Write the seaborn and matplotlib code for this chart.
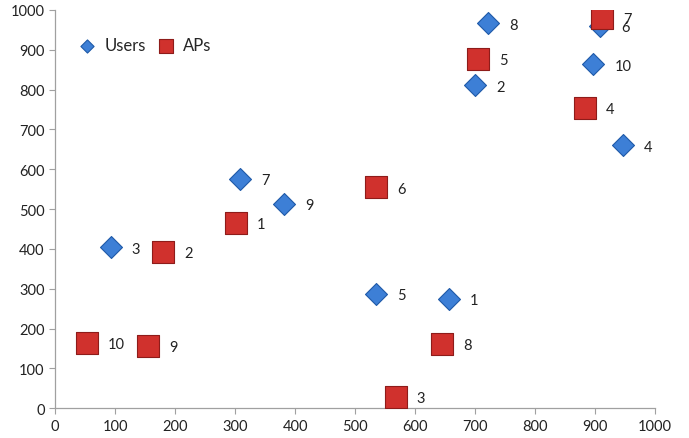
import pandas as pd
import matplotlib
matplotlib.use("Agg")
import matplotlib.pyplot as plt
import seaborn as sns

# -----------------------------------
# DATA
# -----------------------------------

user_ids = [1, 2, 3, 4, 5, 6, 7, 8, 9, 10]
user_x = [657, 700, 93, 947, 535, 908, 308, 722, 382, 897]
user_y = [274, 811, 404, 660, 287, 960, 576, 967, 513, 864]

ap_ids = [1, 2, 3, 4, 5, 6, 7, 8, 9, 10]
ap_x = [302, 180, 568, 883, 705, 535, 912, 645, 155, 53]
ap_y = [466, 392, 28, 754, 878, 555, 980, 162, 157, 164]

users = pd.DataFrame({"x": user_x, "y": user_y, "id": user_ids})
aps = pd.DataFrame({"x": ap_x, "y": ap_y, "id": ap_ids})

# SET STYLE
sns.set_style("white")
plt.rcParams["font.family"] = ["Lato", "DejaVu Sans"]

fig = plt.figure(figsize=(6.89, 4.39), dpi=100)
ax = fig.add_axes([0.080, 0.068, 0.871, 0.907])

sns.scatterplot(
    x="x", y="y", data=users, marker="D", s=125,
    color="#3d7fd6", edgecolor="#1f5aa8", linewidth=0.8,
    label="Users", ax=ax, zorder=3
)
sns.scatterplot(
    x="x", y="y", data=aps, marker="s", s=250,
    color="#d0312d", edgecolor="#8e1c1a", linewidth=0.8,
    label="APs", ax=ax, zorder=4
)

# point labels
for df in (users, aps):
    for _, r in df.iterrows():
        ax.annotate(str(r["id"]), (r["x"], r["y"]), xytext=(15, -1),
                    textcoords="offset points", va="center", ha="left",
                    fontsize=10.5, color="#222222")

ax.set_xlim(0, 1000)
ax.set_ylim(0, 1000)
ax.set_xticks(range(0, 1001, 100))
ax.set_yticks(range(0, 1001, 100))
ax.set_xlabel("")
ax.set_ylabel("")
ax.tick_params(axis="both", labelsize=10.5, labelcolor="#222222", length=4,
               direction="out", bottom=True, left=True, color="#a0a0a0")

sns.despine(ax=ax)
for side in ("left", "bottom"):
    ax.spines[side].set_color("#a0a0a0")
    ax.spines[side].set_linewidth(0.9)

ax.legend(loc="upper left", bbox_to_anchor=(0.0, 0.97), ncol=2, frameon=False,
          fontsize=12, handletextpad=0.05, columnspacing=0.2, markerscale=0.6)

fig.savefig("out.png", dpi=100)
